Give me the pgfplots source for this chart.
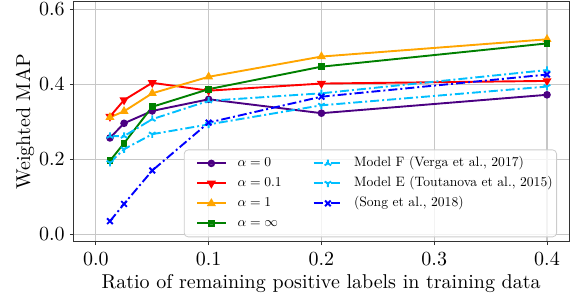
\documentclass[border=0pt]{standalone}
\usepackage{pgfplots}
\pgfplotsset{compat=1.18}
\usetikzlibrary{plotmarks}
\DeclareFontShape{TU}{lmr}{m}{n}{<-> "[lmroman10-regular]:mapping=tex-text"}{}
\DeclareFontShape{OML}{cmm}{m}{it}{<-> cmmi10}{}
\DeclareFontShape{OT1}{cmr}{m}{n}{<-> cmr10}{}
\DeclareFontShape{OMS}{cmsy}{m}{n}{<-> cmsy10}{}
\definecolor{cpurple}{RGB}{75,0,130}
\definecolor{corange}{RGB}{255,165,0}
\definecolor{cgreen}{RGB}{0,128,0}
\definecolor{ccyan}{RGB}{0,191,255}
\definecolor{cblue}{RGB}{0,0,255}
\definecolor{cred}{RGB}{255,0,0}
\pgfplotsset{
  sA/.style={color=cpurple, solid, line width=0.95pt, mark=*, mark size=1.4pt},
  sB/.style={color=cred, solid, line width=0.95pt, mark=triangle*, mark size=1.7pt, mark options={rotate=180}},
  sC/.style={color=corange, solid, line width=0.95pt, mark=triangle*, mark size=1.7pt},
  sD/.style={color=cgreen, solid, line width=0.95pt, mark=square*, mark size=1.2pt},
  sF/.style={color=ccyan, line width=0.95pt, dash pattern=on 4.5pt off 1.5pt on 1pt off 1.5pt, mark=Mercedes star, mark size=1.9pt, mark options={solid}},
  sE/.style={color=ccyan, line width=0.95pt, dash pattern=on 4.5pt off 1.5pt on 1pt off 1.5pt, mark=Mercedes star flipped, mark size=1.9pt, mark options={solid}},
  sS/.style={color=cblue, line width=0.95pt, dash pattern=on 4.5pt off 1.5pt on 1pt off 1.5pt, mark=x, mark size=2pt, mark options={solid}},
}
\begin{document}
\begin{tikzpicture}
\begin{axis}[
  name=ax,
  scale only axis, width=247.85pt, height=119.85pt,
  xmin=-0.02, xmax=0.4195, ymin=-0.0197, ymax=0.6195,
  xtick={0,0.1,0.2,0.3,0.4}, ytick={0,0.2,0.4,0.6},
  xticklabel style={/pgf/number format/fixed, /pgf/number format/fixed zerofill, /pgf/number format/precision=1},
  yticklabel style={/pgf/number format/fixed, /pgf/number format/fixed zerofill, /pgf/number format/precision=1, inner xsep=2.4pt},
  tick pos=left, tick align=outside, major tick length=1.75pt,
  every tick/.style={black!80, line width=0.5pt},
  axis line style={black!80, line width=0.5pt},
  grid=major, major grid style={black!22, line width=0.55pt},
  xlabel={Ratio of remaining positive labels in training data},
  ylabel={Weighted MAP},
  xlabel style={at={(axis description cs:0.5,0)}, anchor=base, yshift=-23.2pt},
  ylabel style={at={(axis description cs:-0.0974,0.5)}, anchor=center},
  legend columns=2, legend cell align=left,
  legend image code/.code={\path (-5pt,0pt); \draw[mark repeat=2,mark phase=2] plot coordinates {(0pt,0pt)(7.1pt,0pt)(14.2pt,0pt)};},
  legend style={at={(1,0)}, anchor=south east, xshift=-6pt, yshift=2.2pt,
    font=\fontsize{6.8}{8}\selectfont, draw=black!20, rounded corners=2pt,
    fill=white, fill opacity=0.8, text opacity=1, draw opacity=1,
    inner xsep=1pt, inner ysep=2.5pt, row sep=1.5pt,
    nodes={inner sep=1pt, text height=5pt, text depth=1.5pt},
    /tikz/every odd column/.append style={column sep=4.5pt},
    /tikz/every even column/.append style={column sep=9.5pt}},
]
\addplot[sA, forget plot] coordinates {(0.0125,0.257)(0.025,0.296)(0.05,0.329)(0.1,0.360)(0.2,0.323)(0.4,0.372)};
\addplot[sB, forget plot] coordinates {(0.0125,0.314)(0.025,0.358)(0.05,0.404)(0.1,0.383)(0.2,0.402)(0.4,0.409)};
\addplot[sC, forget plot] coordinates {(0.0125,0.312)(0.025,0.328)(0.05,0.376)(0.1,0.420)(0.2,0.474)(0.4,0.520)};
\addplot[sD, forget plot] coordinates {(0.0125,0.196)(0.025,0.243)(0.05,0.340)(0.1,0.387)(0.2,0.447)(0.4,0.509)};
\addplot[sF, forget plot] coordinates {(0.0125,0.262)(0.025,0.262)(0.05,0.307)(0.1,0.356)(0.2,0.376)(0.4,0.438)};
\addplot[sE, forget plot] coordinates {(0.0125,0.191)(0.025,0.227)(0.05,0.267)(0.1,0.293)(0.2,0.344)(0.4,0.394)};
\addplot[sS, forget plot] coordinates {(0.0125,0.035)(0.025,0.081)(0.05,0.170)(0.1,0.298)(0.2,0.367)(0.4,0.426)};
\addlegendimage{sA}\addlegendentry{$\alpha=0$}
\addlegendimage{sF}\addlegendentry{Model F (Verga et al., 2017)}
\addlegendimage{sB}\addlegendentry{$\alpha=0.1$}
\addlegendimage{sE}\addlegendentry{Model E (Toutanova et al., 2015)}
\addlegendimage{sC}\addlegendentry{$\alpha=1$}
\addlegendimage{sS}\addlegendentry{(Song et al., 2018)}
\addlegendimage{sD}\addlegendentry{$\alpha=\infty$}
\end{axis}
\pgfresetboundingbox
\path[use as bounding box] ([shift={(-36.65pt,-28.15pt)}]ax.south west) rectangle ([shift={(2pt,1pt)}]ax.north east);
\end{tikzpicture}
\end{document}
